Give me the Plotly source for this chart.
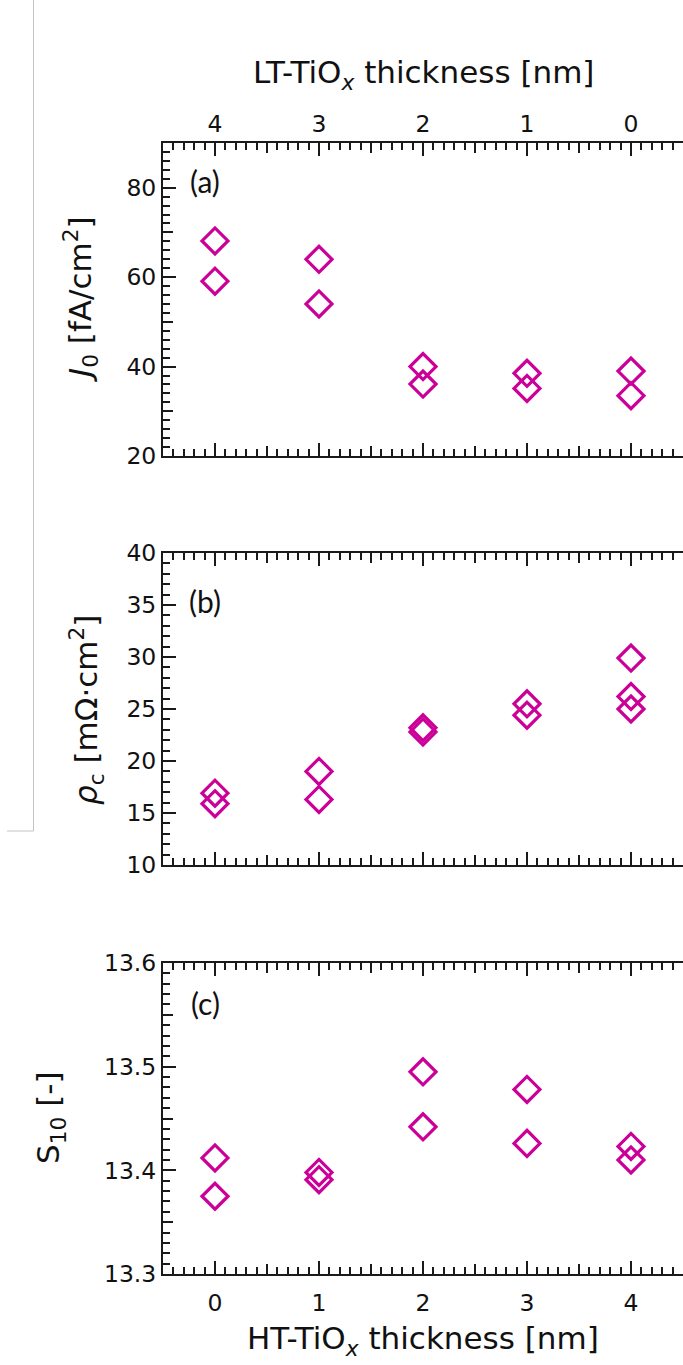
import plotly.graph_objects as go

W, H = 683, 1365

# ---------------- data ----------------
ht_ticks = [0, 1, 2, 3, 4]
ht_labels = ["0", "1", "2", "3", "4"]
lt_labels = ["4", "3", "2", "1", "0"]

j0_x = [0, 0, 1, 1, 2, 2, 3, 3, 4, 4]
j0_y = [68.1, 59.1, 64.0, 54.0, 40.0, 36.1, 38.5, 35.1, 39.0, 33.5]

rho_x = [0, 0, 1, 1, 2, 2, 3, 3, 4, 4, 4]
rho_y = [16.9, 15.9, 19.0, 16.3, 23.2, 22.8, 25.5, 24.4, 29.9, 26.2, 25.0]

s10_x = [0, 0, 1, 1, 2, 2, 3, 3, 4, 4]
s10_y = [13.412, 13.375, 13.398, 13.391, 13.495, 13.442, 13.478, 13.426, 13.423, 13.410]

# ---------------- style ----------------
MAG = "#CC0099"
AX = "#1a1a1a"
FONT = "DejaVu Sans"

def px_y(top, bottom):
    return [1 - bottom / H, 1 - top / H]

xdom = [163 / W, 1.0]
dom_a = px_y(143, 456)
dom_b = px_y(553, 865)
dom_c = px_y(963, 1274)

fig = go.Figure()

panels = [
    (j0_x, j0_y, "x", "y"),
    (rho_x, rho_y, "x2", "y2"),
    (s10_x, s10_y, "x3", "y3"),
]
for xs, ys, xa, ya in panels:
    fig.add_trace(go.Scatter(
        x=xs, y=ys, mode="markers", xaxis=xa, yaxis=ya, showlegend=False,
        marker=dict(symbol="diamond-open", size=20, color=MAG,
                    line=dict(width=3.2, color=MAG)),
    ))

# invisible traces for medium-tick overlay axes
for i in (4, 5, 6):
    fig.add_trace(go.Scatter(x=[None], y=[None], xaxis=f"x{i}", yaxis=f"y{i}",
                             showlegend=False, hoverinfo="skip"))

tickfont = dict(family=FONT, size=23.5, color="#111")

def xaxis_main(anchor, side, show_labels, labels, standoff):
    return dict(
        domain=xdom, anchor=anchor, range=[-0.5, 4.5], side=side,
        showline=True, linecolor=AX, linewidth=2, mirror="ticks",
        ticks="inside", ticklen=13, tickwidth=2, tickcolor=AX,
        tickvals=ht_ticks, ticktext=labels, showticklabels=show_labels,
        tickfont=tickfont, showgrid=False, zeroline=False,
        ticklabelstandoff=standoff, automargin=False,
        minor=dict(dtick=0.1, tick0=0, ticks="inside", ticklen=7,
                   tickwidth=1.5, tickcolor=AX, showgrid=False),
    )

def xaxis_med(overlay, anchor):
    return dict(
        overlaying=overlay, anchor=anchor, range=[-0.5, 4.5],
        showline=False, mirror="ticks", ticks="inside", ticklen=10,
        tickwidth=1.8, tickcolor=AX, tickvals=[0.5, 1.5, 2.5, 3.5],
        showticklabels=False, showgrid=False, zeroline=False,
        automargin=False,
    )

def yaxis_main(dom, anchor, rng, dtick, mdtick, fmt=None):
    d = dict(
        domain=dom, anchor=anchor, range=rng, showline=True, linecolor=AX,
        linewidth=2, mirror=False, ticks="inside", ticklen=13, tickwidth=2,
        tickcolor=AX, tick0=rng[0], dtick=dtick, tickfont=tickfont,
        showgrid=False, zeroline=False, ticklabelstandoff=0,
        automargin=False,
        minor=dict(dtick=mdtick, tick0=rng[0], ticks="inside", ticklen=7,
                   tickwidth=1.5, tickcolor=AX, showgrid=False),
    )
    if fmt:
        d["tickformat"] = fmt
    return d

def yaxis_med(overlay, anchor, rng, vals):
    return dict(
        overlaying=overlay, anchor=anchor, range=rng, showline=False,
        ticks="inside", ticklen=10, tickwidth=1.8, tickcolor=AX,
        tickvals=vals, showticklabels=False, showgrid=False, zeroline=False,
        automargin=False,
    )

fig.update_layout(
    width=W, height=H,
    margin=dict(l=0, r=0, t=0, b=0, pad=0, autoexpand=False),
    paper_bgcolor="white", plot_bgcolor="rgba(0,0,0,0)",
    xaxis=xaxis_main("y", "top", True, lt_labels, 0),
    xaxis2=xaxis_main("y2", "bottom", False, ht_labels, 4),
    xaxis3=xaxis_main("y3", "bottom", True, ht_labels, 7),
    xaxis4=xaxis_med("x", "y"),
    xaxis5=xaxis_med("x2", "y2"),
    xaxis6=xaxis_med("x3", "y3"),
    yaxis=yaxis_main(dom_a, "x", [20, 90], 20, 2),
    yaxis2=yaxis_main(dom_b, "x2", [10, 40], 5, 1),
    yaxis3=yaxis_main(dom_c, "x3", [13.3, 13.6], 0.1, 0.01, ".1f"),
    yaxis4=yaxis_med("y", "x", [20, 90], [30, 50, 70, 90]),
    yaxis5=yaxis_med("y2", "x2", [10, 40], []),
    yaxis6=yaxis_med("y3", "x3", [13.3, 13.6], [13.35, 13.45, 13.55]),
)

titlefont = dict(family=FONT, size=31, color="#111")
labfont = dict(family="Lato", size=30, color="#111")

def P(xpx, ypx):
    return xpx / W, 1 - ypx / H

annos = [
    ("LT-TiO<sub><i>x</i></sub> thickness [nm]", 423, 74, 0, titlefont),
    ("HT-TiO<sub><i>x</i></sub> thickness [nm]", 423, 1340, 0, titlefont),
    ("<i>J</i><sub>0</sub> [fA/cm<sup>2</sup>]", 80, 300, -90, titlefont),
    ("<i>ρ</i><sub>c</sub> [mΩ·cm<sup>2</sup>]", 86, 710, -90, titlefont),
    ("S<sub>10</sub> [-]", 50, 1118, -90, titlefont),
    ("(a)", 205, 181, 0, labfont),
    ("(b)", 205, 601, 0, labfont),
    ("(c)", 205, 1003, 0, labfont),
]
for text, xp, yp, ang, f in annos:
    ax_, ay_ = P(xp, yp)
    fig.add_annotation(text=text, x=ax_, y=ay_, xref="paper", yref="paper",
                       xanchor="center", yanchor="middle", showarrow=False,
                       textangle=ang, font=f)

# thin gray frame fragment at the left of the image
fig.add_shape(type="line", xref="paper", yref="paper",
              x0=33.5 / W, x1=33.5 / W, y0=1.0, y1=1 - 831 / H,
              line=dict(color="#c4c4c4", width=1))
fig.add_shape(type="line", xref="paper", yref="paper",
              x0=7 / W, x1=33.5 / W, y0=1 - 831 / H, y1=1 - 831 / H,
              line=dict(color="#c4c4c4", width=1))

fig.write_html(
    "out.html",
    post_script="document.body.style.margin='0';document.body.style.padding='0';"
                "document.documentElement.style.overflow='hidden';",
)
